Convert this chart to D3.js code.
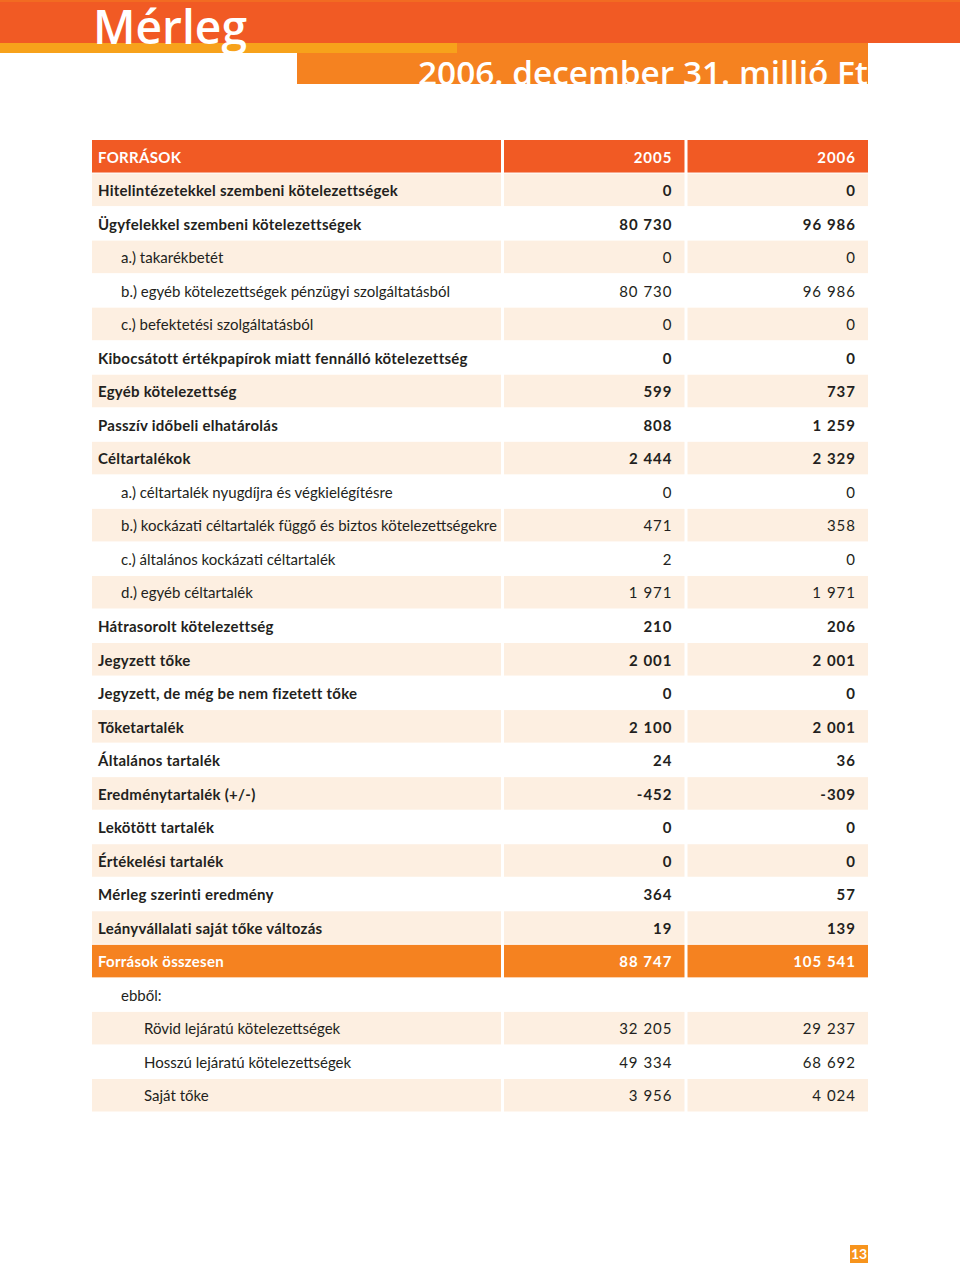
<!DOCTYPE html>
<html>
  <head>
    <meta http-equiv="Content-Type" content="text/html;charset=utf-8" />
    <title>Mérleg</title>
    <style>
      body {
        margin: 0;
        background: #fff;
      }
      text {
        font-family: "Lato", "Open Sans", sans-serif;
      }
      text.title {
        font-family: "Open Sans", sans-serif;
        font-weight: 600;
        fill: #fff;
      }
      text.label {
        font-size: 15px;
        fill: #231f20;
      }
      text.num {
        font-size: 15px;
        fill: #231f20;
        letter-spacing: 1px;
        text-anchor: end;
      }
    </style>
    <script src="https://d3js.org/d3.v7.min.js"></script>
  </head>
  <body>
    <div id="chart"></div>
    <script type="text/javascript">
      const width = 960,
        height = 1270;

      const pageTitle = "Mérleg";
      const pageSubtitle = "2006. december 31. millió Ft";
      const headerLabel = "FORRÁSOK";
      const years = ["2005", "2006"];
      const pageNumber = "13";

      const rowLabels = [
        "Hitelintézetekkel szembeni kötelezettségek",
        "Ügyfelekkel szembeni kötelezettségek",
        "a.) takarékbetét",
        "b.) egyéb kötelezettségek pénzügyi szolgáltatásból",
        "c.) befektetési szolgáltatásból",
        "Kibocsátott értékpapírok miatt fennálló kötelezettség",
        "Egyéb kötelezettség",
        "Passzív időbeli elhatárolás",
        "Céltartalékok",
        "a.) céltartalék nyugdíjra és végkielégítésre",
        "b.) kockázati céltartalék függő és biztos kötelezettségekre",
        "c.) általános kockázati céltartalék",
        "d.) egyéb céltartalék",
        "Hátrasorolt kötelezettség",
        "Jegyzett tőke",
        "Jegyzett, de még be nem fizetett tőke",
        "Tőketartalék",
        "Általános tartalék",
        "Eredménytartalék (+/-)",
        "Lekötött tartalék",
        "Értékelési tartalék",
        "Mérleg szerinti eredmény",
        "Leányvállalati saját tőke változás",
        "Források összesen",
        "ebből:",
        "Rövid lejáratú kötelezettségek",
        "Hosszú lejáratú kötelezettségek",
        "Saját tőke",
      ];

      // main = bold line, sub = a.)/b.) item, total = sum line, note = "ebből", detail = breakdown
      const rowKinds = [
        "main", "main", "sub", "sub", "sub", "main", "main", "main", "main",
        "sub", "sub", "sub", "sub", "main", "main", "main", "main", "main",
        "main", "main", "main", "main", "main", "total", "note",
        "detail", "detail", "detail",
      ];

      const values2005 = [
        0, 80730, 0, 80730, 0, 0, 599, 808, 2444, 0, 471, 2, 1971, 210, 2001,
        0, 2100, 24, -452, 0, 0, 364, 19, 88747, null, 32205, 49334, 3956,
      ];
      const values2006 = [
        0, 96986, 0, 96986, 0, 0, 737, 1259, 2329, 0, 358, 0, 1971, 206, 2001,
        0, 2001, 36, -309, 0, 0, 57, 139, 105541, null, 29237, 68692, 4024,
      ];

      const rows = rowLabels.map(function (label, i) {
        return {
          label: label,
          kind: rowKinds[i],
          values: [values2005[i], values2006[i]],
        };
      });

      const fmt = d3.formatLocale({
        decimal: ",",
        thousands: " ",
        grouping: [3],
        currency: ["", ""],
        minus: "-",
      }).format(",d");

      const colors = {
        band: "#f15a24",
        bandTop: "#f26b22",
        strip: "#f7a21b",
        box: "#f58220",
        header: "#f15a24",
        total: "#f58220",
        shade: "#fdefe1",
        page: "#f7941d",
      };

      const svg = d3
        .select("#chart")
        .append("svg")
        .attr("width", width)
        .attr("height", height);

      //- page header
      svg.append("rect").attr("x", 0).attr("y", 0).attr("width", width).attr("height", 43).style("fill", colors.band);
      svg.append("rect").attr("x", 0).attr("y", 0).attr("width", width).attr("height", 2).style("fill", colors.bandTop);
      svg.append("rect").attr("x", 297).attr("y", 43).attr("width", 571).attr("height", 41).style("fill", colors.box);
      svg.append("rect").attr("x", 0).attr("y", 43).attr("width", 457).attr("height", 10).style("fill", colors.strip);

      svg
        .append("text")
        .attr("class", "title")
        .attr("x", 93)
        .attr("y", 44)
        .style("font-size", "47px")
        .attr("textLength", 154)
        .attr("lengthAdjust", "spacingAndGlyphs")
        .text(pageTitle);

      svg
        .append("text")
        .attr("class", "title")
        .attr("x", 418)
        .attr("y", 85)
        .style("font-size", "32px")
        .attr("textLength", 450)
        .attr("lengthAdjust", "spacingAndGlyphs")
        .text(pageSubtitle);

      //- table scales
      const y = d3
        .scaleBand()
        .domain(d3.range(rows.length + 1))
        .range([140, 140 + (rows.length + 1) * 33.5])
        .paddingInner(0.03)
        .paddingOuter(0);

      const labelCol = { x: 92, w: 409 };
      const x = d3
        .scaleBand()
        .domain(years)
        .range([504, 868])
        .paddingInner(3 / 182)
        .paddingOuter(0);

      const indent = { main: 6, total: 6, sub: 29, note: 29, detail: 52 };
      const baseline = 22.5;

      //- header row
      const head = svg.append("g").attr("class", "head");
      head
        .append("rect")
        .attr("x", labelCol.x)
        .attr("y", y(0))
        .attr("width", labelCol.w)
        .attr("height", y.bandwidth())
        .style("fill", colors.header);
      head
        .selectAll("rect.year")
        .data(years)
        .enter()
        .append("rect")
        .attr("class", "year")
        .attr("x", function (d) { return x(d); })
        .attr("y", y(0))
        .attr("width", x.bandwidth())
        .attr("height", y.bandwidth())
        .style("fill", colors.header);
      head
        .append("text")
        .attr("class", "label")
        .attr("x", labelCol.x + 6)
        .attr("y", y(0) + baseline)
        .style("fill", "#fff")
        .style("font-weight", "bold")
        .style("letter-spacing", "0.3px")
        .text(headerLabel);
      head
        .selectAll("text.num")
        .data(years)
        .enter()
        .append("text")
        .attr("class", "num")
        .attr("x", function (d) { return x(d) + x.bandwidth() - 12; })
        .attr("y", y(0) + baseline)
        .style("fill", "#fff")
        .style("font-weight", "bold")
        .text(function (d) { return d; });

      //- body rows
      const shaded = function (d, i) {
        if (d.kind === "total" || d.kind === "note") return false;
        return i < 23 ? i % 2 === 0 : i % 2 === 1;
      };

      const row = svg
        .selectAll("g.row")
        .data(rows)
        .enter()
        .append("g")
        .attr("class", "row")
        .attr("transform", function (d, i) {
          return "translate(0," + y(i + 1) + ")";
        });

      row
        .filter(function (d, i) { return shaded(d, i) || d.kind === "total"; })
        .each(function (d) {
          const g = d3.select(this);
          const fill = d.kind === "total" ? colors.total : colors.shade;
          g.append("rect")
            .attr("x", labelCol.x)
            .attr("width", labelCol.w)
            .attr("height", y.bandwidth())
            .style("fill", fill);
          g.selectAll("rect.year")
            .data(years)
            .enter()
            .append("rect")
            .attr("class", "year")
            .attr("x", function (yr) { return x(yr); })
            .attr("width", x.bandwidth())
            .attr("height", y.bandwidth())
            .style("fill", fill);
        });

      const isBold = function (d) {
        return d.kind === "main" || d.kind === "total";
      };
      const textFill = function (d) {
        return d.kind === "total" ? "#fff" : "#231f20";
      };

      row
        .append("text")
        .attr("class", "label")
        .attr("x", function (d) { return labelCol.x + indent[d.kind]; })
        .attr("y", baseline)
        .style("font-weight", function (d) { return isBold(d) ? "bold" : "normal"; })
        .style("letter-spacing", function (d) { return isBold(d) ? "0.25px" : null; })
        .style("fill", textFill)
        .text(function (d) { return d.label; });

      row
        .filter(function (d) { return d.values[0] !== null; })
        .each(function (d) {
          d3.select(this)
            .selectAll("text.num")
            .data(years.map(function (yr, k) { return { year: yr, value: d.values[k] }; }))
            .enter()
            .append("text")
            .attr("class", "num")
            .attr("x", function (v) { return x(v.year) + x.bandwidth() - 12; })
            .attr("y", baseline)
            .style("font-weight", isBold(d) ? "bold" : "normal")
            .style("fill", textFill(d))
            .text(function (v) { return fmt(v.value); });
        });

      //- page number
      svg.append("rect").attr("x", 850).attr("y", 1245).attr("width", 18).attr("height", 18).style("fill", colors.page);
      svg
        .append("text")
        .attr("x", 859)
        .attr("y", 1259)
        .style("text-anchor", "middle")
        .style("font-size", "14px")
        .style("font-weight", "bold")
        .style("fill", "#fff")
        .text(pageNumber);
    </script>
  </body>
</html>
